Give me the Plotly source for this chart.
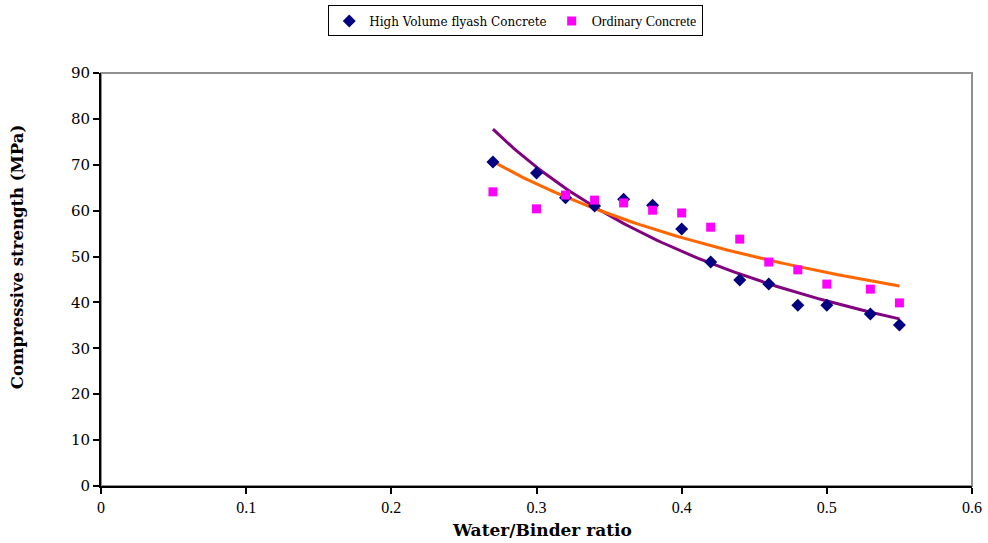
import numpy as np
import plotly.graph_objects as go

wb_ratio = [0.27, 0.30, 0.32, 0.34, 0.36, 0.38, 0.40, 0.42, 0.44, 0.46, 0.48, 0.50, 0.53, 0.55]
hvfa = [70.6, 68.2, 62.8, 61.0, 62.5, 61.2, 56.0, 48.8, 44.9, 44.0, 39.4, 39.4, 37.5, 35.1]
ordinary = [64.1, 60.4, 63.4, 62.3, 61.7, 60.1, 59.5, 56.4, 53.8, 48.8, 47.1, 44.0, 42.9, 39.9]
x_ticks = [0, 0.1, 0.2, 0.3, 0.4, 0.5, 0.6]
y_ticks = [0, 10, 20, 30, 40, 50, 60, 70, 80, 90]


def power_fit(x, y):
    b, lna = np.polyfit(np.log(x), np.log(y), 1)
    xs = np.linspace(min(x), max(x), 100)
    return xs, np.exp(lna) * xs ** b


fig = go.Figure()
xs, ys = power_fit(wb_ratio, hvfa)
fig.add_trace(go.Scatter(x=xs, y=ys, mode="lines", line=dict(color="#800080", width=3),
                         showlegend=False, hoverinfo="skip"))
xs2, ys2 = power_fit(wb_ratio, ordinary)
fig.add_trace(go.Scatter(x=xs2, y=ys2, mode="lines", line=dict(color="#FF6600", width=3),
                         showlegend=False, hoverinfo="skip"))
fig.add_trace(go.Scatter(x=wb_ratio, y=hvfa, mode="markers", name="High Volume flyash Concrete",
                         marker=dict(symbol="diamond", color="#000080", size=10)))
fig.add_trace(go.Scatter(x=wb_ratio, y=ordinary, mode="markers",
                         name='<span style="font-family:Liberation Serif;font-size:14px">Ordinary Concrete</span>',
                         marker=dict(symbol="square", color="#FF00FF", size=9)))

fig.update_layout(
    width=988, height=543,
    margin=dict(l=101, r=16, t=73, b=57),
    paper_bgcolor="white", plot_bgcolor="white",
    font=dict(family="Liberation Serif", color="black"),
    legend=dict(orientation="h", xref="container", yref="container",
                x=0.522, y=0.99, xanchor="center", yanchor="top",
                bordercolor="black", borderwidth=1,
                font=dict(family="DejaVu Serif", size=12),
                itemwidth=30, tracegroupgap=0),
    xaxis=dict(range=[0, 0.6], tickvals=x_ticks, ticktext=[str(v) for v in x_ticks],
               automargin=False,
               showgrid=False, zeroline=False, showline=True, linecolor="black", linewidth=2,
               ticks="outside", ticklen=6, tickwidth=2, tickcolor="black",
               tickfont=dict(family="Liberation Serif", size=16)),
    yaxis=dict(range=[0, 90], tickvals=y_ticks, automargin=False,
               showgrid=False, zeroline=False, showline=True, linecolor="black", linewidth=2,
               ticks="outside", ticklen=6, tickwidth=2, tickcolor="black",
               tickfont=dict(family="DejaVu Serif", size=15)),
    annotations=[
        dict(text="<b>Water/Binder ratio</b>", xref="paper", yref="paper", x=0.506, y=0,
             xanchor="center", yanchor="middle", yshift=-44, showarrow=False,
             font=dict(family="DejaVu Serif", size=17)),
        dict(text="<b>Compressive strength (MPa)</b>", xref="paper", yref="paper", x=0, y=0.554,
             xanchor="center", yanchor="middle", xshift=-84, textangle=-90, showarrow=False,
             font=dict(family="DejaVu Serif", size=16.5)),
    ],
    shapes=[dict(type="rect", xref="paper", yref="paper", x0=0, y0=0, x1=1, y1=1,
                 line=dict(color="#909090", width=2), layer="below")],
)

fig.write_html("out.html")
